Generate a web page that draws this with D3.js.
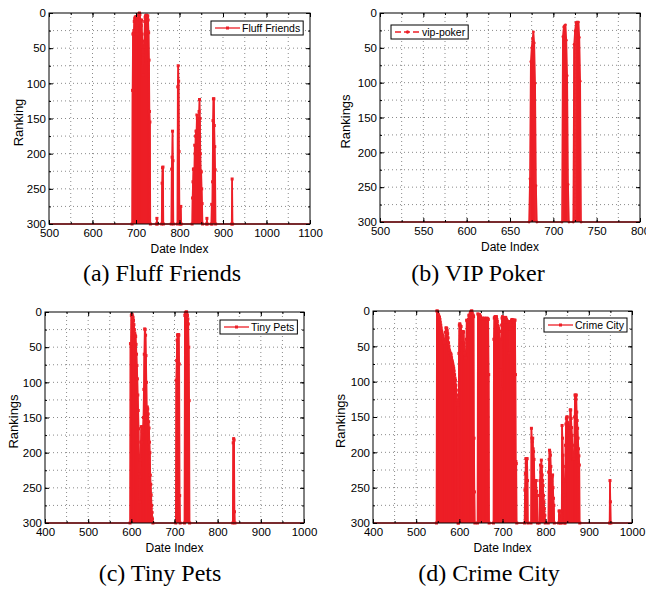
<!DOCTYPE html>
<html>
<head>
<meta charset="utf-8">
<script src="https://cdn.jsdelivr.net/npm/d3@7"></script>
<style>
  body { margin: 0; background: #fff; }
  svg { display: block; }
</style>
</head>
<body>
<script>
// Data: each burst is [first date index, rankings on consecutive days].
// A ranking of 300 means "not in the chart" (bottom of the axis).

var fluffBursts = [
  [691, [300,110,30,29,25,12,8,6,10,5,8,22,30,14,8,3,1,0,2,10,12,18,10,30,48,88,60,48,40,12,6,4,4,3,4,5,4,10,28,67,140,155,300]],
  [747, [300,292,300]],
  [759, [300,242,220,219,300]],
  [781, [300,222,205,168,210,300]],
  [795, [300,105,75,97,197,280,300,300,275,300]],
  [829, [300,263,240,222,222,222,188,200,175,168,168,145,150,168,193,170,140,123,150,200,225,226,250,271,300]],
  [862, [300,292,300]],
  [873, [300,272,300,240,153,122,122,160,190,223,300]],
  [920, [300,236,300]]
];
var vipBursts = [
  [672, [300,238,70,50,37,27,43,101,248,300]],
  [710, [300,34,20,18,17,39,90,246,300]],
  [723, [300,45,26,14,13,13,13,35,98,300]]
];
var tinyBursts = [
  [597, [300,45,45,5,3,4,6,8,12,18,25,30,33,35,46,60,76,95,118,140,166,230,270,234,210,185,163,185,170,163,165,150,110,60,24,25,33,62,100,137,135,138,145,156,165,185,200,232,245,260,275,285,294,300]],
  [703, [300,97,69,40,33,32,32,33,74,261,300]],
  [723, [300,5,2,1,0,0,3,5,10,17,50,126,300]],
  [835, [300,186,180,182,284,300]]
];
var crimeBursts = [
  [547, [300,0,0,3,5,6,8,9,12,16,20,24,28,31,34,36,40,43,45,44,40,30,24,24,25,28,32,38,45,50,55,58,60,60,62,66,70,72,75,78,81,85,90,95,98,105,112,119,126,133,300]],
  [598, [300,60,20,18,20,22,22,30,41,38,35,29,30,45,60,65,66,67,40,13,14,15,15,12,6,8,6,4,2,1,0,0,3,6,6,8,180,256,300]],
  [642, [300,4,5,6,6,5,7,8,10,11,11,10,11,12,11,11,10,11,11,12,11,11,10,11,11,12,90,300]],
  [679, [300,40,10,9,8,8,9,8,12,15,20,22,25,28,29,40,84,110,84,20,10,8,10,12,15,15,12,10,9,10,12,15,14,15,15,16,15,60,25,25,20,15,13,12,13,13,14,13,20,13,13,90,213,216,300]],
  [751, [300,253,230,209,215,209,209,240,300]],
  [766, [300,166,180,185,180,195,199,210,240,240,250,240,240,255,261,300]],
  [785, [300,261,240,218,228,211,220,232,240,247,261,270,280,289,300]],
  [806, [300,228,210,197,200,204,220,247,240,235,232,250,265,275,300]],
  [830, [300,283,290,283,300]],
  [837, [300,162,180,204,220,240,261,300]],
  [845, [300,190,160,152,150,150,158,162,166,172,180,165,140,140,152,165,176,190,209,209,200,209,150,119,119,125,119,143,155,166,180,195,205,218,300]],
  [948, [300,240,270,300]]
];

// date range covered by each series (ranking 300 outside the bursts)
var fluffSpan = [500, 1100];
var vipSpan = [500, 800];
var tinySpan = [400, 1000];
var crimeSpan = [400, 1000];

var fluffXTicks = [500, 600, 700, 800, 900, 1000, 1100];
var vipXTicks = [500, 550, 600, 650, 700, 750, 800];
var tinyXTicks = [400, 500, 600, 700, 800, 900, 1000];
var crimeXTicks = [400, 500, 600, 700, 800, 900, 1000];
var rankTicks = [0, 50, 100, 150, 200, 250, 300];

var red = '#ed1f27';
var width = 646, height = 591;

var panels = [
  {series: 'Fluff Friends', caption: '(a) Fluff Friends', ylabel: 'Ranking',
   bursts: fluffBursts, span: fluffSpan, xticks: fluffXTicks, xstep: 50, dashed: false,
   left: 49, right: 310, top: 13, bottom: 224, legend: [211, 21], capx: 162, capy: 281, ylx: 18},
  {series: 'vip-poker', caption: '(b) VIP Poker', ylabel: 'Rankings',
   bursts: vipBursts, span: vipSpan, xticks: vipXTicks, xstep: 25, dashed: true,
   left: 380, right: 640, top: 13, bottom: 222, legend: [391, 25], capx: 478, capy: 281, ylx: 345},
  {series: 'Tiny Pets', caption: '(c) Tiny Pets', ylabel: 'Rankings',
   bursts: tinyBursts, span: tinySpan, xticks: tinyXTicks, xstep: 50, dashed: false,
   left: 45, right: 304, top: 312, bottom: 523, legend: [220, 320], capx: 160, capy: 581, ylx: 13},
  {series: 'Crime City', caption: '(d) Crime City', ylabel: 'Rankings',
   bursts: crimeBursts, span: crimeSpan, xticks: crimeXTicks, xstep: 50, dashed: false,
   left: 373, right: 632, top: 311, bottom: 523, legend: [544, 318], capx: 489, capy: 581, ylx: 340}
];

var svg = d3.select('body').append('svg')
  .attr('width', width)
  .attr('height', height)
  .style('font-family', 'Liberation Sans, Arial, sans-serif');

function draw_panel(p) {
  var g = svg.append('g');
  var xscale = d3.scaleLinear().domain(p.span).range([p.left, p.right]);
  var yscale = d3.scaleLinear().domain([0, 300]).range([p.top, p.bottom]);

  // minor positions used by the dotted grid and the small ticks
  var xminor = d3.range(p.span[0], p.span[1] + 0.1, p.xstep);
  var yminor = d3.range(0, 300.1, 25);

  // Dotted grid
  g.selectAll('.vgrid').data(xminor.slice(1, -1)).enter().append('line')
    .attr('x1', function(d) { return xscale(d); })
    .attr('x2', function(d) { return xscale(d); })
    .attr('y1', p.top).attr('y2', p.bottom)
    .attr('stroke', '#8a8a8a').attr('stroke-width', 1)
    .attr('stroke-dasharray', '1,3');
  g.selectAll('.hgrid').data(yminor.slice(1, -1)).enter().append('line')
    .attr('y1', function(d) { return yscale(d); })
    .attr('y2', function(d) { return yscale(d); })
    .attr('x1', p.left).attr('x2', p.right)
    .attr('stroke', '#8a8a8a').attr('stroke-width', 1)
    .attr('stroke-dasharray', '1,3');

  // flatten bursts into [date, rank] points
  var pts = [];
  p.bursts.forEach(function(b) {
    b[1].forEach(function(r, i) { pts.push([b[0] + i, r]); });
  });

  // stems from the bottom (300) up to each ranking -> fills the dense parts
  g.selectAll('.stem').data(pts.filter(function(d) { return d[1] < 300; })).enter().append('line')
    .attr('x1', function(d) { return xscale(d[0]); })
    .attr('x2', function(d) { return xscale(d[0]); })
    .attr('y1', yscale(300))
    .attr('y2', function(d) { return yscale(d[1]); })
    .attr('stroke', red).attr('stroke-width', 1.4);

  var linePts = [[p.span[0], 300]].concat(pts, [[p.span[1], 300]]);
  g.append('path')
    .datum(linePts)
    .attr('fill', 'none')
    .attr('stroke', red)
    .attr('stroke-width', 1.6)
    .attr('stroke-linejoin', 'round')
    .attr('d', d3.line()
      .x(function(d) { return xscale(d[0]); })
      .y(function(d) { return yscale(d[1]); }));

  // markers
  if (p.dashed) {
    g.selectAll('.mk').data(pts).enter().append('circle')
      .attr('cx', function(d) { return xscale(d[0]); })
      .attr('cy', function(d) { return yscale(d[1]); })
      .attr('r', 1.4).attr('fill', red);
  } else {
    g.selectAll('.mk').data(pts).enter().append('rect')
      .attr('x', function(d) { return xscale(d[0]) - 1.5; })
      .attr('y', function(d) { return yscale(d[1]) - 1.5; })
      .attr('width', 3).attr('height', 3).attr('fill', red);
  }

  // Axes: labels outside, ticks pointing inward on all four sides
  g.append('g')
    .attr('transform', 'translate(0,' + p.bottom + ')')
    .call(d3.axisBottom(xscale).tickValues(p.xticks).tickSize(-4).tickPadding(5).tickFormat(d3.format('d')));
  g.append('g')
    .attr('transform', 'translate(' + p.left + ',0)')
    .call(d3.axisLeft(yscale).tickValues(rankTicks).tickSize(-4).tickPadding(3));
  g.append('g').attr('transform', 'translate(0,' + p.bottom + ')')
    .call(d3.axisBottom(xscale).tickValues(xminor).tickSize(-2).tickFormat(''));
  g.append('g').attr('transform', 'translate(0,' + p.top + ')')
    .call(d3.axisTop(xscale).tickValues(p.xticks).tickSize(-4).tickFormat(''));
  g.append('g').attr('transform', 'translate(0,' + p.top + ')')
    .call(d3.axisTop(xscale).tickValues(xminor).tickSize(-2).tickFormat(''));
  g.append('g').attr('transform', 'translate(' + p.left + ',0)')
    .call(d3.axisLeft(yscale).tickValues(yminor).tickSize(-2).tickFormat(''));
  g.append('g').attr('transform', 'translate(' + p.right + ',0)')
    .call(d3.axisRight(yscale).tickValues(rankTicks).tickSize(-4).tickFormat(''));
  g.append('g').attr('transform', 'translate(' + p.right + ',0)')
    .call(d3.axisRight(yscale).tickValues(yminor).tickSize(-2).tickFormat(''));
  g.selectAll('.domain').remove();
  g.selectAll('.tick line').attr('stroke', '#000');
  g.selectAll('.tick text')
    .style('font-family', 'Liberation Sans, Arial, sans-serif')
    .style('font-size', '11.5px')
    .attr('fill', '#000');

  // frame
  g.append('rect')
    .attr('x', p.left).attr('y', p.top)
    .attr('width', p.right - p.left).attr('height', p.bottom - p.top)
    .attr('fill', 'none').attr('stroke', '#000').attr('stroke-width', 1);

  // axis titles
  g.append('text')
    .attr('transform', 'translate(' + p.ylx + ',' + ((p.top + p.bottom) / 2 + 4) + ') rotate(-90)')
    .attr('dy', '0.35em')
    .style('text-anchor', 'middle')
    .style('font-size', '13px')
    .text(p.ylabel);
  g.append('text')
    .attr('x', (p.left + p.right) / 2)
    .attr('y', p.bottom + 29)
    .style('text-anchor', 'middle')
    .style('font-size', '12px')
    .text('Date Index');

  // legend
  var lx = p.legend[0], ly = p.legend[1];
  var lg = g.append('g');
  var box = lg.append('rect')
    .attr('x', lx).attr('y', ly).attr('height', 14)
    .attr('fill', '#fff').attr('stroke', '#000').attr('stroke-width', 1);
  lg.append('line')
    .attr('x1', lx + 4).attr('x2', lx + 29)
    .attr('y1', ly + 7).attr('y2', ly + 7)
    .attr('stroke', red).attr('stroke-width', 1.3)
    .attr('stroke-dasharray', p.dashed ? '6,3' : null);
  if (p.dashed) {
    lg.append('circle').attr('cx', lx + 16.5).attr('cy', ly + 7).attr('r', 1.7).attr('fill', red);
  } else {
    lg.append('rect').attr('x', lx + 15).attr('y', ly + 5.5).attr('width', 3).attr('height', 3).attr('fill', red);
  }
  var lt = lg.append('text')
    .attr('x', lx + 31).attr('y', ly + 11)
    .style('font-size', '10.5px')
    .text(p.series);
  box.attr('width', lt.node().getComputedTextLength() + 34);

  // caption under the panel
  svg.append('text')
    .attr('x', p.capx).attr('y', p.capy)
    .style('text-anchor', 'middle')
    .style('font-family', 'Liberation Serif, Times New Roman, serif')
    .style('font-size', '24px')
    .text(p.caption);
}

panels.forEach(draw_panel);
</script>
</body>
</html>
